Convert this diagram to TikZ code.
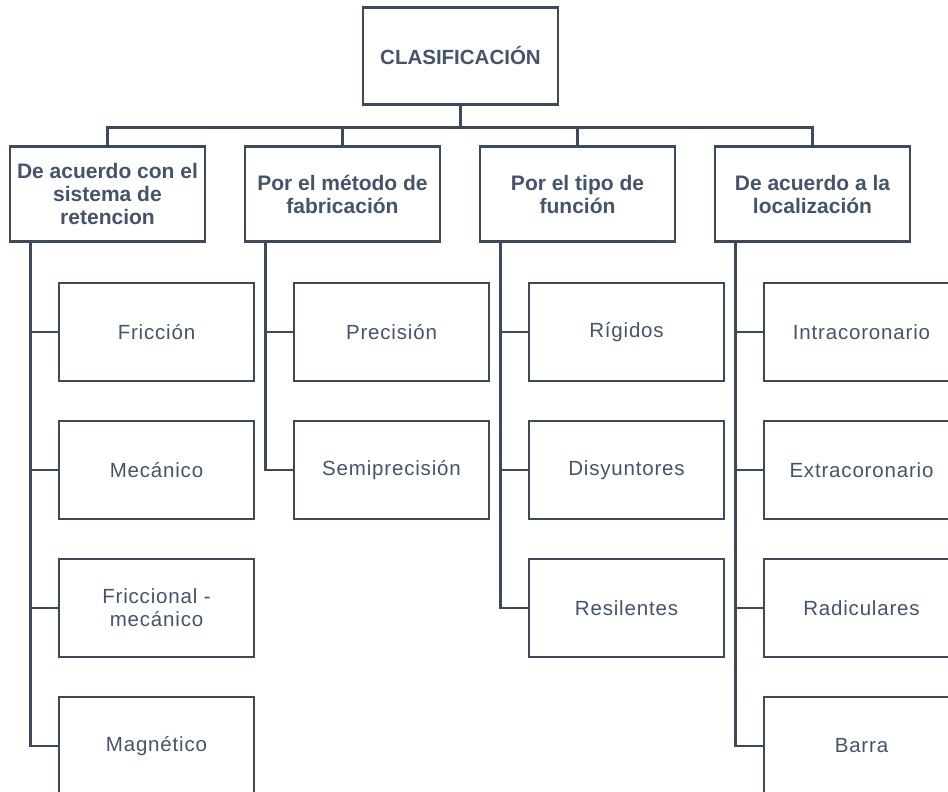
\documentclass[tikz,border=0pt]{standalone}
\usepackage{fontspec}
\setmainfont{Liberation Sans}
\usetikzlibrary{positioning, calc}
\definecolor{clasline}{HTML}{3D4A5C}
\definecolor{clastext}{HTML}{44546A}
\tikzset{
  clasbox/.style={draw=clasline, line width=2.6pt, fill=white, align=center,
    text=clastext, minimum width=195pt, inner sep=2pt},
  rootbox/.style={clasbox, minimum height=97pt,
    font=\fontsize{20.5}{23}\selectfont\bfseries},
  catbox/.style={clasbox, minimum height=95pt,
    font=\fontsize{21}{23}\selectfont\bfseries},
  itembox/.style={clasbox, minimum height=98pt,
    font=\fontsize{20.5}{23}\selectfont\addfontfeatures{LetterSpace=4}},
  claslink/.style={draw=clasline, line width=2.6pt},
}

\begin{document}
\begin{tikzpicture}[x=1pt, y=1pt]
  \path[use as bounding box] (0,0) rectangle (948,-792);
  \clip (0,0) rectangle (948,-792);
  % Raiz
  \node[rootbox] (root) at (460.5,-56) {CLASIFICACIÓN};
  % Categorias
  \node[catbox] (cat1) at (107.5,-194) {De acuerdo con el\\sistema de\\retencion};
  \node[catbox, right=37.4pt of cat1] (cat2) {Por el método de\\fabricación};
  \node[catbox, right=37.4pt of cat2] (cat3) {Por el tipo de\\función};
  \node[catbox, right=37.4pt of cat3] (cat4) {De acuerdo a la\\localización};
  \foreach \c in {1,...,4}{
    \draw[claslink] (root.south) -- ++(0,-21.5) -| (cat\c.north);
  }
  % Elementos de cada categoria
  \foreach \c/\items in {1/{Fricción,Mecánico,{Friccional -\\mecánico},Magnético},
                         2/{Precisión,Semiprecisión},
                         3/{Rígidos,Disyuntores,Resilentes},
                         4/{Intracoronario,Extracoronario,Radiculares,Barra}}{
    \foreach \txt [count=\r] in \items {
      \node[itembox] (item\c-\r) at ($(cat\c.center)+(49,-138-138*\r+138)$) {\txt};
      \draw[claslink] ([xshift=22pt]cat\c.south west) |- (item\c-\r.west);
    }
  }
\end{tikzpicture}
\end{document}
